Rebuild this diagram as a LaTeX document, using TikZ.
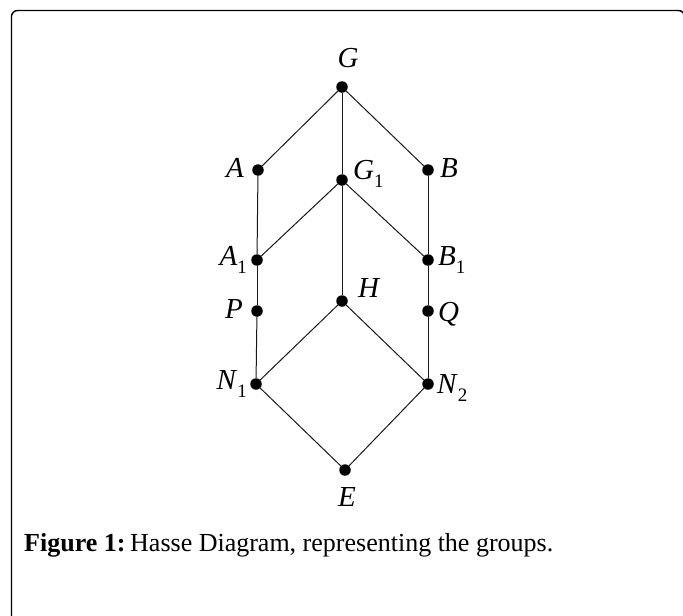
\documentclass[tikz,border=0pt]{standalone}
\usepackage{fontspec}
\setmainfont{Liberation Serif}
\newcommand{\vlabel}[2]{\textit{#1}\raisebox{-0.3em}{\fontsize{19}{19}\selectfont #2}}

\begin{document}
\begin{tikzpicture}[
    x=1pt, y=-1pt,
    every node/.style={font=\fontsize{29}{32}\selectfont},
    vertex/.style={circle, fill=black, inner sep=0pt, minimum size=11.5pt},
    edge/.style={line width=1pt, black!90},
    every label/.style={inner sep=0pt, font=\fontsize{29}{32}\selectfont}
]
\useasboundingbox (0,0) rectangle (683,616);
\draw[line width=1.4pt, rounded corners=6pt] (11.5,660) -- (11.5,10.5) -- (684.5,10.5) -- (684.5,660);

% vertices of the lattice
\node[vertex, label={[label distance=5pt, xshift=6pt]above:\vlabel{G}{}}] (G) at (342,87) {};
\node[vertex, label={[label distance=8pt, yshift=-2pt]left:\vlabel{A}{}}] (A) at (258,170) {};
\node[vertex, label={[label distance=5pt, yshift=6pt]right:\vlabel{G}{1}}] (G1) at (342,180) {};
\node[vertex, label={[label distance=6pt, yshift=-2pt]right:\vlabel{B}{}}] (B) at (428,170) {};
\node[vertex, label={[label distance=4pt]left:\vlabel{A}{1}}] (A1) at (257,260) {};
\node[vertex, label={[label distance=4pt]right:\vlabel{B}{1}}] (B1) at (428,260) {};
\node[vertex, label={[label distance=10pt, yshift=9pt]right:\vlabel{H}{}}] (H) at (342,301) {};
\node[vertex, label={[label distance=4pt, yshift=-5pt]right:\vlabel{Q}{}}] (Q) at (428,311) {};
\node[vertex, label={[label distance=8pt, yshift=-2pt]left:\vlabel{P}{}}] (P) at (257,311) {};
\node[vertex, label={[label distance=3pt]left:\vlabel{N}{1}}] (N1) at (256,384) {};
\node[vertex, label={[label distance=3pt, yshift=-4pt]right:\vlabel{N}{2}}] (N2) at (428,384) {};
\node[vertex, label={[label distance=11pt, xshift=2pt]below:\vlabel{E}{}}] (E) at (345,470) {};

% covering relations
\draw[edge] (G) -- (A);
\draw[edge] (G) -- (G1);
\draw[edge] (G) -- (B);
\draw[edge] (A) -- (A1);
\draw[edge] (G1) -- (A1);
\draw[edge] (G1) -- (B1);
\draw[edge] (B) -- (B1);
\draw[edge] (G1) -- (H);
\draw[edge] (A1) -- (P);
\draw[edge] (P) -- (N1);
\draw[edge] (B1) -- (Q);
\draw[edge] (Q) -- (N2);
\draw[edge] (H) -- (N1);
\draw[edge] (H) -- (N2);
\draw[edge] (N1) -- (E);
\draw[edge] (N2) -- (E);

\node[anchor=base west, inner sep=0pt, font=\fontsize{26}{30}\selectfont] (caption) at (24,551)
  {\textbf{Figure 1:}\hspace{0.18em}Hasse Diagram, representing the groups.};
\end{tikzpicture}
\end{document}
